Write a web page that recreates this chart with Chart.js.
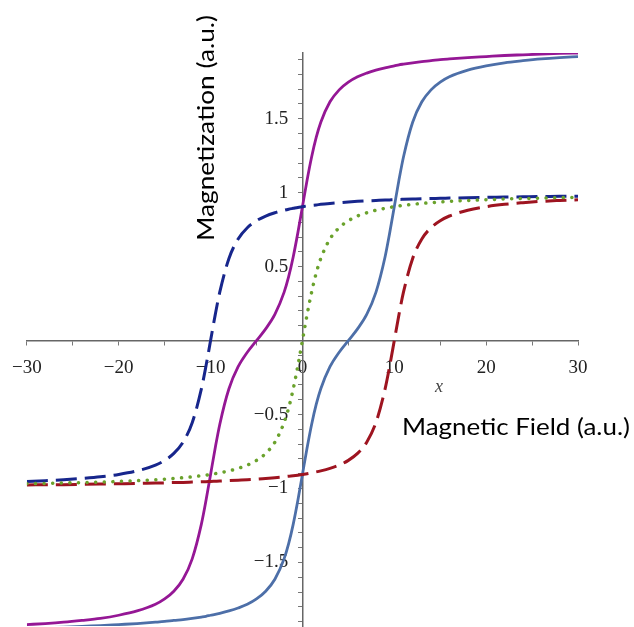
<!DOCTYPE html>
<html>
<head>
<meta charset="utf-8">
<script src="https://cdn.jsdelivr.net/npm/chart.js@4.4.0/dist/chart.umd.min.js"></script>
<style>
  html, body { margin: 0; padding: 0; background: #fff; }
</style>
</head>
<body>
<canvas id="chart" width="634" height="627"></canvas>
<script>
// magnetic field values (x), shared by every curve
const field = [-30, -28, -26, -24, -22, -20, -18, -16, -15, -14, -13, -12, -11, -10.5, -10, -9.5, -9, -8, -7, -6, -5, -4, -3, -2, -1.5, -1, -0.5, 0,
  0.5, 1, 1.5, 2, 3, 4, 5, 6, 7, 8, 9, 9.5, 10, 10.5, 11, 12, 13, 14, 15, 16, 18, 20, 22, 24, 26, 28, 30];

// magnetization
const blueDashed = [-0.952, -0.947, -0.941, -0.932, -0.921, -0.905, -0.881, -0.842, -0.81, -0.763, -0.687, -0.555, -0.327, -0.172, 0, 0.172, 0.327, 0.555, 0.687, 0.763, 0.81, 0.842, 0.864, 0.881, 0.888, 0.894, 0.9, 0.905,
  0.91, 0.914, 0.917, 0.921, 0.927, 0.932, 0.937, 0.941, 0.944, 0.947, 0.95, 0.951, 0.952, 0.954, 0.955, 0.957, 0.959, 0.96, 0.962, 0.963, 0.966, 0.968, 0.97, 0.972, 0.974, 0.975, 0.976];
const redDashed = [-0.976, -0.975, -0.974, -0.972, -0.97, -0.968, -0.966, -0.963, -0.962, -0.96, -0.959, -0.957, -0.955, -0.954, -0.952, -0.951, -0.95, -0.947, -0.944, -0.941, -0.937, -0.932, -0.927, -0.921, -0.917, -0.914, -0.91, -0.905,
  -0.9, -0.894, -0.888, -0.881, -0.864, -0.842, -0.81, -0.763, -0.687, -0.555, -0.327, -0.172, 0, 0.172, 0.327, 0.555, 0.687, 0.763, 0.81, 0.842, 0.881, 0.905, 0.921, 0.932, 0.941, 0.947, 0.952];
const greenDotted = [-0.968, -0.966, -0.963, -0.96, -0.957, -0.952, -0.947, -0.941, -0.937, -0.932, -0.927, -0.921, -0.914, -0.91, -0.905, -0.9, -0.894, -0.881, -0.864, -0.842, -0.81, -0.763, -0.687, -0.555, -0.456, -0.327, -0.172, 0,
  0.172, 0.327, 0.456, 0.555, 0.687, 0.763, 0.81, 0.842, 0.864, 0.881, 0.894, 0.9, 0.905, 0.91, 0.914, 0.921, 0.927, 0.932, 0.937, 0.941, 0.947, 0.952, 0.957, 0.96, 0.963, 0.966, 0.968];
const purpleSolid = [-1.92, -1.913, -1.904, -1.892, -1.878, -1.857, -1.828, -1.783, -1.747, -1.695, -1.614, -1.476, -1.241, -1.082, -0.905, -0.728, -0.567, -0.326, -0.177, -0.079, 0, 0.079, 0.177, 0.326, 0.432, 0.567, 0.728, 0.905,
  1.082, 1.241, 1.373, 1.476, 1.614, 1.695, 1.747, 1.783, 1.808, 1.828, 1.844, 1.851, 1.857, 1.864, 1.869, 1.878, 1.886, 1.892, 1.899, 1.904, 1.913, 1.92, 1.927, 1.932, 1.937, 1.941, 1.944];
const steelSolid = [-1.944, -1.941, -1.937, -1.932, -1.927, -1.92, -1.913, -1.904, -1.899, -1.892, -1.886, -1.878, -1.869, -1.864, -1.857, -1.851, -1.844, -1.828, -1.808, -1.783, -1.747, -1.695, -1.614, -1.476, -1.373, -1.241, -1.082, -0.905,
  -0.728, -0.567, -0.432, -0.326, -0.177, -0.079, 0, 0.079, 0.177, 0.326, 0.567, 0.728, 0.905, 1.082, 1.241, 1.476, 1.614, 1.695, 1.747, 1.783, 1.828, 1.857, 1.878, 1.892, 1.904, 1.913, 1.92];

// tick marks and which of them get a label
const xTicks = [-30, -25, -20, -15, -10, -5, 0, 5, 10, 15, 20, 25, 30];
const xLabelTicks = [-30, -20, -10, 0, 10, 20, 30];
const yTicks = [-1.9, -1.8, -1.7, -1.6, -1.5, -1.4, -1.3, -1.2, -1.1, -1, -0.9, -0.8, -0.7, -0.6, -0.5, -0.4, -0.3, -0.2, -0.1, 0,
  0.1, 0.2, 0.3, 0.4, 0.5, 0.6, 0.7, 0.8, 0.9, 1, 1.1, 1.2, 1.3, 1.4, 1.5, 1.6, 1.7, 1.8, 1.9];
const yLabelTicks = [-1.5, -1, -0.5, 0.5, 1, 1.5];

const pts = arr => field.map((x, i) => ({ x: x, y: arr[i] }));
const fmt = v => String(v).replace('-', '\u2212');

// free text: axis captions
function fitText(ctx, text, cx, cy, width, rot) {
  ctx.save();
  ctx.translate(cx, cy);
  ctx.rotate(rot);
  const w = ctx.measureText(text).width;
  ctx.scale(width / w, 1);
  ctx.textAlign = 'center';
  ctx.textBaseline = 'middle';
  ctx.fillText(text, 0, 0);
  ctx.restore();
}

const captions = {
  id: 'captions',
  afterDraw(chart) {
    const ctx = chart.ctx;
    ctx.save();
    ctx.fillStyle = '#000';
    ctx.font = '24px Lato';
    fitText(ctx, 'Magnetization (a.u.)', 206, 128, 226, -Math.PI / 2);
    fitText(ctx, 'Magnetic Field (a.u.)', 516, 427, 228, 0);
    ctx.font = 'italic 18px "Liberation Serif"';
    ctx.fillStyle = '#444';
    ctx.textAlign = 'center';
    ctx.textBaseline = 'middle';
    ctx.fillText('x', 439, 387);
    ctx.restore();
  }
};

new Chart(document.getElementById('chart'), {
  type: 'line',
  data: {
    datasets: [
      { data: pts(greenDotted), borderColor: '#6aa22c', borderWidth: 3.5, borderDash: [0.1, 8.5], borderCapStyle: 'round' },
      { data: pts(blueDashed), borderColor: '#17268c', borderWidth: 3, borderDash: [21, 8] },
      { data: pts(redDashed), borderColor: '#9e1420', borderWidth: 3, borderDash: [21, 8] },
      { data: pts(purpleSolid), borderColor: '#951795', borderWidth: 2.8 },
      { data: pts(steelSolid), borderColor: '#4d6fa8', borderWidth: 2.8 }
    ]
  },
  options: {
    responsive: false,
    animation: false,
    layout: { padding: { left: 26, right: 56, top: 53, bottom: 0 } },
    elements: {
      point: { radius: 0 },
      line: { cubicInterpolationMode: 'monotone', fill: false }
    },
    plugins: { legend: { display: false }, tooltip: { enabled: false } },
    scales: {
      x: {
        type: 'linear', min: -30, max: 30,
        position: { y: 0 },
        afterBuildTicks: s => { s.ticks = xTicks.map(v => ({ value: v })); },
        ticks: {
          autoSkip: false, maxRotation: 0, padding: 12, color: '#222',
          font: { family: 'Liberation Serif', size: 19 },
          callback: v => xLabelTicks.includes(v) ? fmt(v) : ''
        },
        grid: { drawOnChartArea: false, tickLength: 4, color: '#777' },
        border: { color: '#666', width: 1.5 }
      },
      y: {
        type: 'linear', min: -1.93, max: 1.944,
        position: { x: 0 },
        afterBuildTicks: s => { s.ticks = yTicks.map(v => ({ value: v })); },
        ticks: {
          autoSkip: false, padding: 0, color: '#222',
          font: { family: 'Liberation Serif', size: 19, lineHeight: 0.1 },
          callback: v => yLabelTicks.includes(v) ? fmt(v) + '\u2002\u2005' : ''
        },
        grid: { drawOnChartArea: false, tickLength: 4, color: '#777' },
        border: { color: '#666', width: 1.5 }
      }
    }
  },
  plugins: [captions]
});
</script>
</body>
</html>
